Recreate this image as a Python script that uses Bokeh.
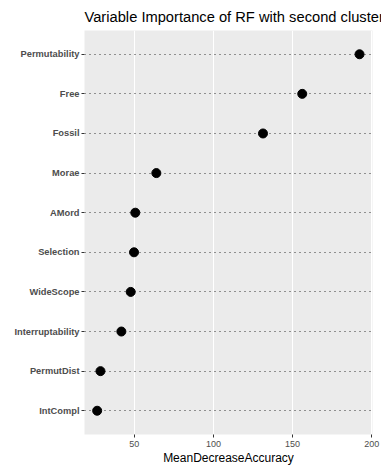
from bokeh.plotting import figure
from bokeh.models import FactorRange, Range1d, FixedTicker
from bokeh.embed import file_html
from bokeh.resources import INLINE

variables = ["IntCompl", "PermutDist", "Interruptability", "WideScope", "Selection",
             "AMord", "Morae", "Fossil", "Free", "Permutability"]
importance = [26.5, 28.6, 41.8, 47.7, 49.8, 50.6, 63.9, 131.3, 156.1, 192.3]
x_ticks = [50, 100, 150, 200]
title_text = "Variable Importance of RF with second cluster"
x_title = "MeanDecreaseAccuracy"

p = figure(width=381, height=467, output_backend="svg", toolbar_location=None,
           y_range=FactorRange(factors=variables, range_padding=0.1,
                               range_padding_units="absolute"),
           x_range=Range1d(18.5, 200.5),
           min_border_left=84, min_border_right=9, min_border_top=30, min_border_bottom=31,
           title=title_text)

p.background_fill_color = "#EBEBEB"
p.border_fill_color = "white"
p.outline_line_color = None

p.title.text_font = "Liberation Sans"
p.title.text_font_size = "14.7px"
p.title.text_font_style = "normal"
p.title.text_color = "black"
p.title.align = "left"
p.title.offset = 0
p.title.standoff = 11
p.title.text_line_height = 1.0

p.xgrid.grid_line_color = "white"
p.xgrid.grid_line_width = 1.1
p.ygrid.grid_line_color = "#333333"
p.ygrid.grid_line_dash = "1 4"
p.ygrid.grid_line_width = 1.1

p.xaxis.ticker = FixedTicker(ticks=x_ticks)
p.xaxis.minor_tick_line_color = None
for ax in (p.xaxis[0], p.yaxis[0]):
    ax.axis_line_color = None
    ax.major_tick_line_color = "#333333"
    ax.major_tick_out = 3
    ax.major_tick_in = 0
    ax.major_label_standoff = 2
    ax.major_label_text_font = "Liberation Sans"
    ax.major_label_text_color = "#4D4D4D"

p.xaxis.major_label_text_font_size = "9px"
p.xaxis.major_label_standoff = 3
p.yaxis.major_label_text_font_size = "9.3px"
p.yaxis.major_label_text_font_style = "bold"
p.xaxis.axis_label = x_title
p.xaxis.axis_label_text_font = "Liberation Sans"
p.xaxis.axis_label_text_font_size = "12px"
p.xaxis.axis_label_text_font_style = "normal"
p.xaxis.axis_label_text_color = "black"
p.xaxis.axis_label_standoff = 1
p.xaxis.axis_label_text_line_height = 1.0

p.scatter(x=importance, y=variables, size=9, color="black")

open("out.html", "w").write(file_html(p, INLINE))
